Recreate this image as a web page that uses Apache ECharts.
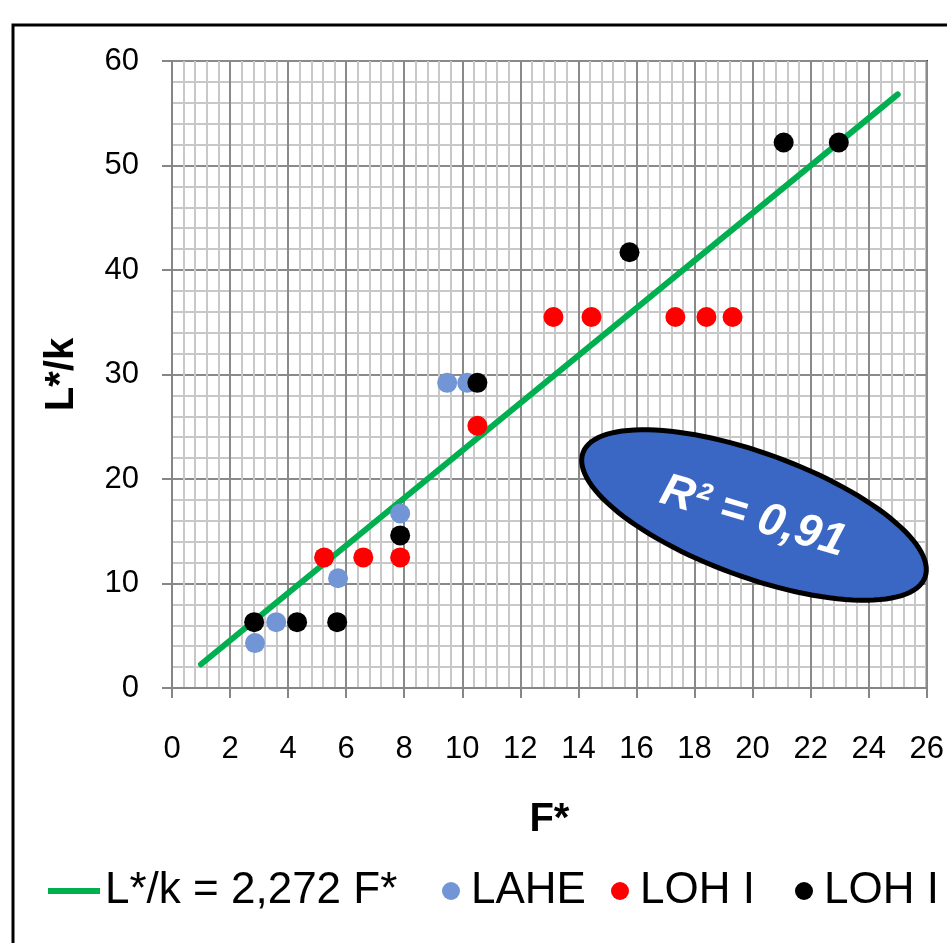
<!DOCTYPE html>
<html><head><meta charset="utf-8">
<script src="https://cdn.jsdelivr.net/npm/echarts@6/dist/echarts.min.js"></script>
<style>html,body{margin:0;padding:0;background:#fff}#c{width:947px;height:943px}</style>
</head><body><div id="c"></div>
<script>
// Data
var lineName = 'L*/k = 2,272 F*';
var fitLine = [[1, 2.27], [25, 56.8]];
var lahe = [[2.86, 4.3], [3.59, 6.3], [5.72, 10.5], [7.86, 16.7], [9.48, 29.2], [10.17, 29.2]];
var loh1 = [[5.24, 12.5], [6.59, 12.5], [7.86, 12.5], [10.52, 25.1], [13.14, 35.5], [14.45, 35.5], [17.34, 35.5], [18.41, 35.5], [19.31, 35.5]];
var loh2 = [[2.83, 6.3], [4.31, 6.3], [5.69, 6.3], [7.86, 14.6], [10.52, 29.2], [15.76, 41.7], [21.07, 52.2], [22.97, 52.2]];
var xTicks = {min: 0, max: 26, interval: 2};
var yTicks = {min: 0, max: 60, interval: 10};
var r2Text = 'R\u00B2 = 0,91';

var chart = echarts.init(document.getElementById('c'), null, {renderer: 'canvas'});
var tickFont = 'Liberation Sans';
var legFont = 'Liberation Sans';

// ellipse outline points
var ell = [];
(function () {
  var cx = 754, cy = 515, a = 182, b = 62, th = 20 * Math.PI / 180;
  for (var i = 0; i < 120; i++) {
    var t = i / 120 * 2 * Math.PI;
    var x = a * Math.cos(t), y = b * Math.sin(t);
    ell.push([cx + x * Math.cos(th) - y * Math.sin(th), cy + x * Math.sin(th) + y * Math.cos(th)]);
  }
})();

function legendFor(name, left, w, h, icon) {
  return {
    data: [{name: name, icon: icon}], left: left, top: 869, itemWidth: w, itemHeight: h, padding: 0,
    textStyle: {fontFamily: legFont, fontSize: 44, color: '#000'},
    formatter: function (n) { return n === 'LOH I (2)' ? 'LOH I' : n; }
  };
}

chart.setOption({
  animation: false,
  backgroundColor: '#fff',
  grid: {left: 172, right: 19, top: 61, bottom: 255, show: true, borderColor: '#000', borderWidth: 2},
  xAxis: {
    type: 'value', min: xTicks.min, max: xTicks.max, interval: xTicks.interval,
    name: 'F*', nameLocation: 'middle', nameGap: 112,
    nameTextStyle: {fontFamily: 'Liberation Sans', fontWeight: 'bold', fontSize: 40, color: '#000'},
    axisLine: {lineStyle: {color: '#868686', width: 2}},
    axisTick: {show: true, length: 10, lineStyle: {color: '#868686', width: 2}},
    axisLabel: {fontFamily: tickFont, fontSize: 31, color: '#000', margin: 46},
    splitLine: {show: true, lineStyle: {color: '#8a8a8a', width: 2}},
    minorTick: {show: false, splitNumber: 5},
    minorSplitLine: {show: true, lineStyle: {color: '#c8c8c8', width: 2}}
  },
  yAxis: {
    type: 'value', min: yTicks.min, max: yTicks.max, interval: yTicks.interval,
    name: 'L*/k', nameLocation: 'middle', nameGap: 90, nameRotate: 90, nameMoveOverlap: false,
    nameTextStyle: {fontFamily: 'Liberation Sans', fontWeight: 'bold', fontSize: 40, color: '#000'},
    axisLine: {show: true, lineStyle: {color: '#868686', width: 2}},
    axisTick: {show: true, length: 10, lineStyle: {color: '#868686', width: 2}},
    axisLabel: {fontFamily: tickFont, fontSize: 31, color: '#000', margin: 33},
    splitLine: {show: true, lineStyle: {color: '#8a8a8a', width: 2}},
    minorTick: {show: false, splitNumber: 5},
    minorSplitLine: {show: true, lineStyle: {color: '#c8c8c8', width: 2}}
  },
  legend: [
    legendFor(lineName, 48, 52, 6, 'rect'),
    legendFor('LAHE', 442, 30, 18, 'circle'),
    legendFor('LOH I', 611, 30, 18, 'circle'),
    legendFor('LOH I (2)', 795, 30, 18, 'circle')
  ],
  series: [
    {name: lineName, type: 'line', data: fitLine, showSymbol: false, symbol: 'none',
      lineStyle: {color: '#00B050', width: 6, cap: 'round'}, itemStyle: {color: '#00B050'}, z: 2},
    {name: 'LAHE', type: 'scatter', data: lahe, symbolSize: 20, itemStyle: {color: '#7295D6', opacity: 1}, z: 3},
    {name: 'LOH I', type: 'scatter', data: loh1, symbolSize: 20, itemStyle: {color: '#FF0000', opacity: 1}, z: 3},
    {name: 'LOH I (2)', type: 'scatter', data: loh2, symbolSize: 20, itemStyle: {color: '#000000', opacity: 1}, z: 3}
  ],
  graphic: [
    {type: 'rect', shape: {x: 13, y: 25, width: 1000, height: 1000}, style: {fill: 'none', stroke: '#000', lineWidth: 3}, z: 10},
    {type: 'polygon', shape: {points: ell}, style: {fill: '#3A67C3', stroke: '#000', lineWidth: 5}, z: 20},
    {type: 'text', x: 753, y: 517, rotation: -16.5 * Math.PI / 180,
      style: {text: r2Text, fill: '#fff', font: 'italic bold 46px "Liberation Sans"', align: 'center', verticalAlign: 'middle'}, z: 21}
  ]
});
</script></body></html>
